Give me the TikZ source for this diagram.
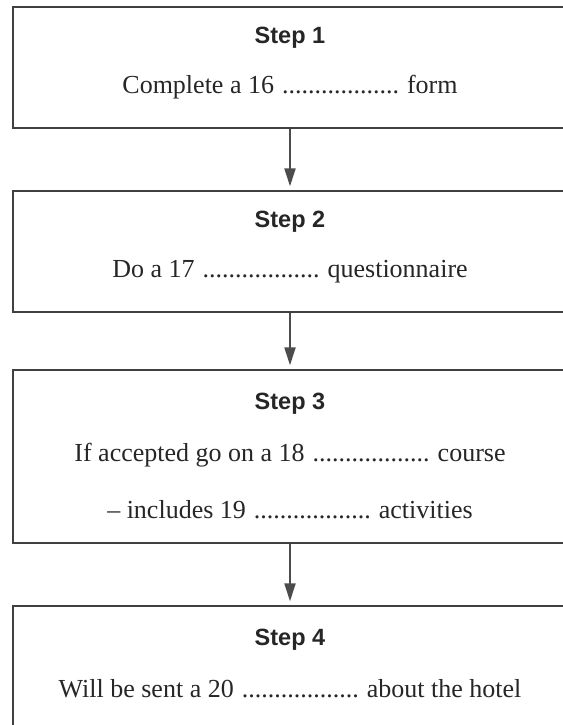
\documentclass[tikz,border=0pt]{standalone}
\usepackage{fontspec}
\setmainfont{Liberation Serif}
\setsansfont{Liberation Sans}
\usetikzlibrary{arrows.meta, positioning}

\newcommand{\gapdots}{\cleaders\hbox to 6.5pt{\hss.\hss}\hskip 120pt}

\begin{document}
\begin{tikzpicture}[x=1pt, y=-1pt,
    stepbox/.style={draw=black!75, line width=1.3pt, minimum width=554pt, inner sep=0pt},
    steptitle/.style={anchor=base, text=black!85, font=\sffamily\bfseries\fontsize{23.5}{28}\selectfont},
    steptext/.style={anchor=base, text=black!85, font=\fontsize{26}{30}\selectfont},
    flow/.style={draw=black!70, line width=2pt, -{Triangle[length=18pt, width=11pt]}, shorten >=4pt}]
	\useasboundingbox (0,0) rectangle (562,725);
	% boxes
	\node[stepbox, minimum height=121pt] (s1) at (290,67.5) {};
	\node[stepbox, minimum height=121pt] (s2) at (290,251.5) {};
	\node[stepbox, minimum height=173pt] (s3) at (290,456.5) {};
	\node[stepbox, minimum height=120pt] (s4) at (290,666) {};
	% texts
	\node[steptitle] (t1) at ([yshift=-37pt]s1.north) {Step 1};
	\node[steptext] (l1) at ([yshift=-87pt]s1.north) {Complete a 16 \gapdots{} form};
	\node[steptitle] (t2) at ([yshift=-37pt]s2.north) {Step 2};
	\node[steptext] (l2) at ([yshift=-87pt]s2.north) {Do a 17 \gapdots{} questionnaire};
	\node[steptitle] (t3) at ([yshift=-40pt]s3.north) {Step 3};
	\node[steptext] (l3a) at ([yshift=-92pt]s3.north) {If accepted go on a 18 \gapdots{} course};
	\node[steptext] (l3b) at ([yshift=-149pt]s3.north) {-- includes 19 \gapdots{} activities};
	\node[steptitle] (t4) at ([yshift=-40pt]s4.north) {Step 4};
	\node[steptext] (l4) at ([yshift=-92pt]s4.north) {Will be sent a 20 \gapdots{} about the hotel};
	% arrows
	\draw[flow] (s1.south) -- (s2.north);
	\draw[flow] (s2.south) -- (s3.north);
	\draw[flow] (s3.south) -- (s4.north);
\end{tikzpicture}
\end{document}
